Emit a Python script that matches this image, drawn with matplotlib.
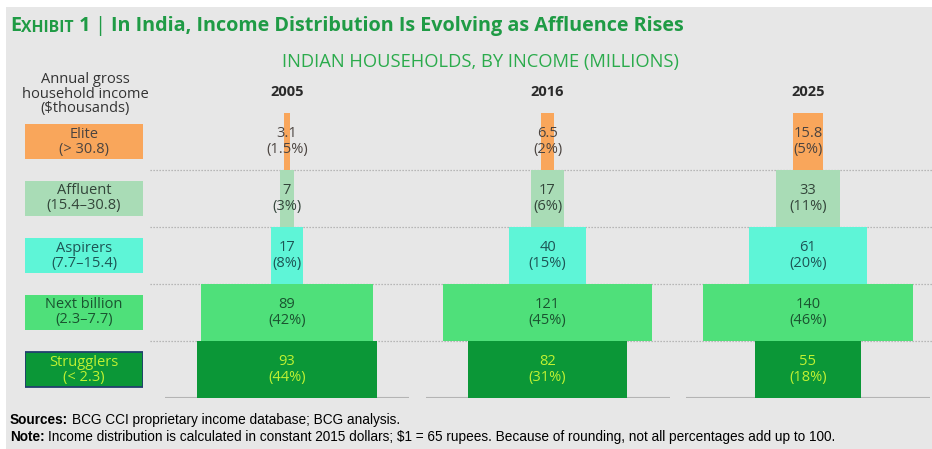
import matplotlib.pyplot as plt
from matplotlib.patches import Rectangle

plt.rcParams['font.family'] = ['Open Sans', 'DejaVu Sans']

## data (millions of households, share of total)
years = ['2005', '2016', '2025']
segments = ['Elite', 'Affluent', 'Aspirers', 'Next billion', 'Strugglers']
ranges = ['(> 30.8)', '(15.4–30.8)', '(7.7–15.4)', '(2.3–7.7)', '(< 2.3)']
hh_2005 = [3.1, 7, 17, 89, 93]
hh_2016 = [6.5, 17, 40, 121, 82]
hh_2025 = [15.8, 33, 61, 140, 55]
pct_2005 = [1.5, 3, 8, 42, 44]
pct_2016 = [2, 6, 15, 45, 31]
pct_2025 = [5, 11, 20, 46, 18]

seg_colors = ['#f9a65b', '#a9dcb6', '#5ef5d7', '#4fe07a', '#0b9737']
txt_colors = ['#4b4440', '#33453a', '#1d5555', '#1a5430', '#bff232']
GREEN = '#1f9b45'
BG = '#e7e7e7'

W, H = 932, 449
fig = plt.figure(figsize=(W / 100, H / 100), dpi=100, facecolor='white')

# background layer in pixel coordinates
bg = fig.add_axes([0, 0, 1, 1], zorder=-1)
bg.set_xlim(0, W)
bg.set_ylim(H, 0)
bg.axis('off')
bg.add_patch(Rectangle((6, 7), W, H, color=BG, lw=0))

ROW_TOP, ROW_H = 113, 57
for k in range(1, 5):
    y = ROW_TOP + k * ROW_H
    bg.plot([150, W], [y, y], color='#a8a8a8', lw=0.9, ls=(0, (1, 1.4)))

# title with small caps "Exhibit"
t = bg.text(10, 36, 'E', fontsize=14.2, fontweight='bold', color=GREEN, va='bottom')
for piece, size, wt in [('XHIBIT', 11.3, 'bold'), (' 1', 14.2, 'bold'), (' | ', 14.2, 'normal'),
                        ('In India, Income Distribution Is Evolving as Affluence Rises', 14.2, 'bold')]:
    t = bg.annotate(piece, xy=(1, 0), xycoords=t, fontsize=size, fontweight=wt,
                    color=GREEN, va='bottom', ha='left')

bg.text(480, 62, 'INDIAN HOUSEHOLDS, BY INCOME (MILLIONS)', fontsize=13.2, color='#2bab4c',
        ha='center', va='center')
bg.text(85, 94, 'Annual gross\nhousehold income\n($thousands)', fontsize=10.5, color='#333333',
        ha='center', va='center', linespacing=0.92)

# footer
foot = ['Liberation Sans', 'DejaVu Sans']
s = bg.text(10, 427, 'Sources:', fontsize=9.8, fontweight='bold', family=foot, va='bottom')
bg.annotate('BCG CCI proprietary income database; BCG analysis.', xy=(1, 0), xycoords=s,
            xytext=(2.5, 0), textcoords='offset points',
            fontsize=9.8, family=foot, va='bottom')
n = bg.text(10, 444, 'Note:', fontsize=9.8, fontweight='bold', family=foot, va='bottom')
bg.annotate('Income distribution is calculated in constant 2015 dollars; $1 = 65 rupees. '
            'Because of rounding, not all percentages add up to 100.', xy=(1, 0), xycoords=n,
            xytext=(2.5, 0), textcoords='offset points',
            fontsize=9.8, family=foot, va='bottom')

ax_bottom = (H - (ROW_TOP + 5 * ROW_H)) / H
ax_height = 5 * ROW_H / H

# segment label boxes
lab = fig.add_axes([25 / W, ax_bottom, 118 / W, ax_height])
lab.set_xlim(0, 1)
lab.set_ylim(5, 0)
lab.axis('off')
rows = [i + 0.5 for i in range(len(segments))]
boxes = lab.barh(rows, 1, left=0, height=35 / ROW_H, color=seg_colors)
boxes[-1].set_edgecolor('#22406e')
boxes[-1].set_linewidth(1.3)
for r, name, rng, tc in zip(rows, segments, ranges, txt_colors):
    lab.text(0.5, r, name + '\n' + rng, ha='center', va='center', fontsize=10.5,
             color=tc, linespacing=1.0)

# pyramids
PX_PER_UNIT = 1.94
HALF = 122 / PX_PER_UNIT
CAP = 108  # very wide bars are clipped to the column in the original
centers = [287, 547.5, 808]
for year, cx, vals, pcts in zip(years, centers, [hh_2005, hh_2016, hh_2025],
                                [pct_2005, pct_2016, pct_2025]):
    ax = fig.add_axes([(cx - 122) / W, ax_bottom, 244 / W, ax_height])
    ax.set_xlim(-HALF, HALF)
    ax.set_ylim(5, 0)
    ax.axis('off')
    widths = [min(v, CAP) for v in vals]
    ax.barh(rows, widths, left=[-w / 2 for w in widths], height=1.0, color=seg_colors)
    ax.axhline(5, color='#b4b4b4', lw=1.5, zorder=0)
    for r, v, p, tc in zip(rows, vals, pcts, txt_colors):
        ax.text(0, r, f'{v:g}\n({p:g}%)', ha='center', va='center', fontsize=10.5,
                color=tc, linespacing=1.1)
    bg.text(cx, 92, year, ha='center', va='center', fontsize=10.5, fontweight='bold',
            color='#2a2a2a')

fig.savefig('out.png', dpi=100, facecolor=fig.get_facecolor())
